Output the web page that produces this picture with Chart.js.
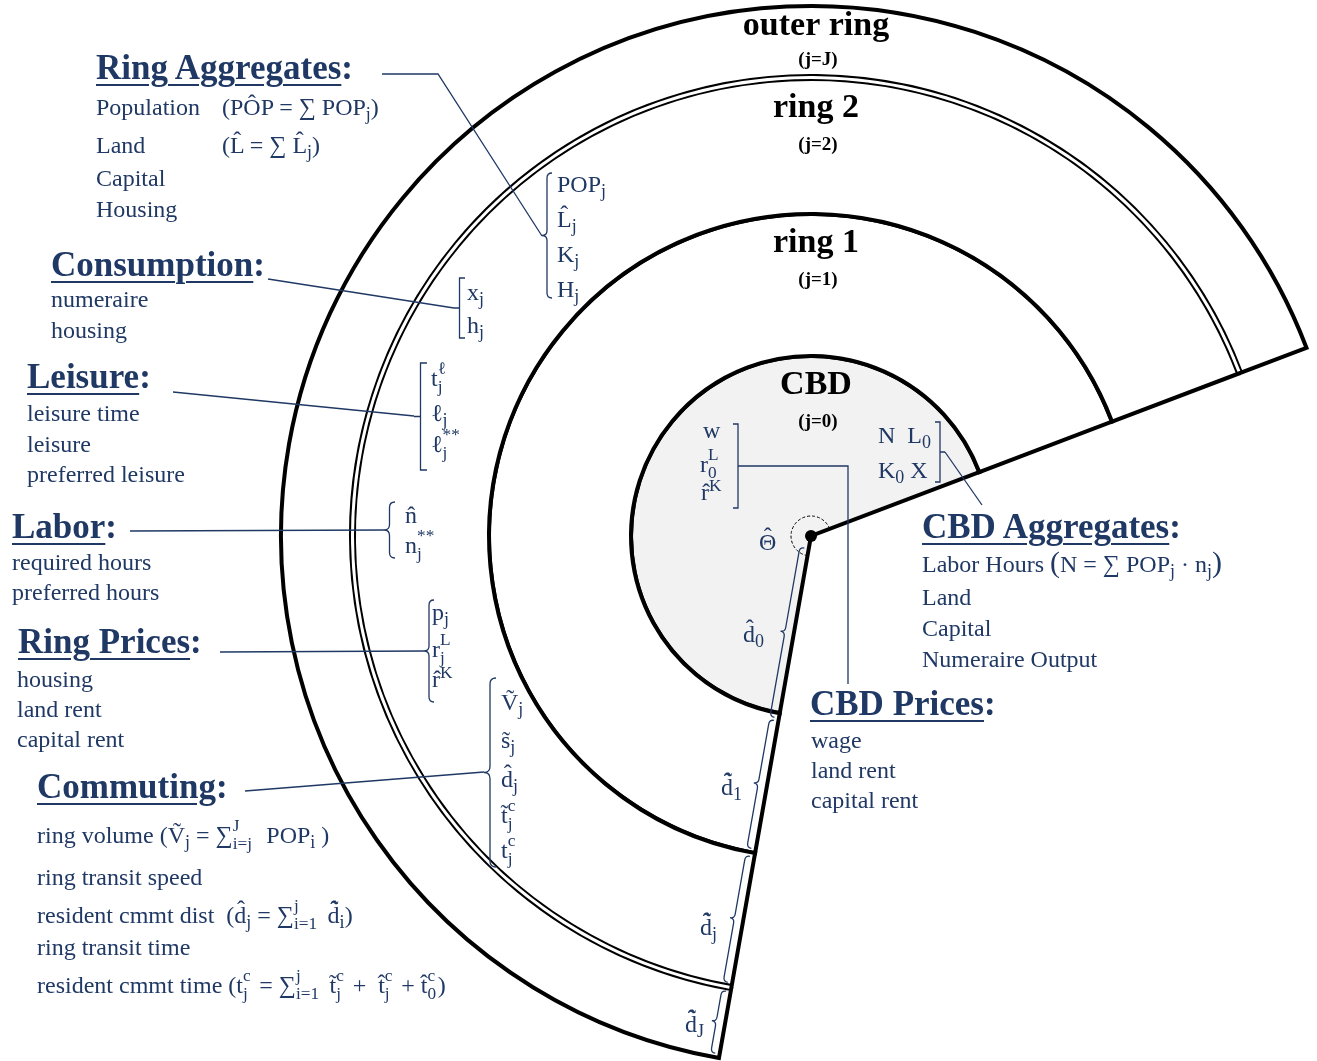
<!DOCTYPE html>
<html>
<head>
<meta charset="utf-8">
<title>Ring city</title>
<script src="https://cdn.jsdelivr.net/npm/chart.js"></script>
<style>
  html, body { margin: 0; padding: 0; background: #fff; }
  #wrap { position: relative; width: 1317px; height: 1061px; overflow: hidden; }
  #city { position: absolute; left: 0; top: 0; }
  .t { position: absolute; white-space: nowrap; color: #1f3864; font-family: 'Liberation Serif', serif; }
  .t span, .t sub, .t sup { line-height: 0; }
  .b { font-size: 24px; line-height: 24px; }
  .h { font-size: 35px; line-height: 35px; font-weight: bold; }
  .h u { text-decoration-thickness: 2px; text-underline-offset: 5px; }
  .m { font-family: 'Liberation Serif', serif; font-size: 24px; }
  .t.m { line-height: 24px; }
  .t .acc { position: relative; display: inline-block; line-height: 1; }
  .t .acc i { position: absolute; left: 0; width: 100%; text-align: center; top: -0.24em; font-style: normal; line-height: 1; }
  sub { font-size: 0.75em; vertical-align: -0.3em; }
  sup { font-size: 0.72em; vertical-align: 0.5em; }
  .ss { position: relative; display: inline-block; font-size: 0.72em; height: 0; }
  .t .ss .sp, .t .ss .sb { position: absolute; left: 0; line-height: 1; }
  .ss .sp { bottom: 0.5em; }
  .ss .sb { top: -0.48em; }
  .t .big { font-size: 30px; }
</style>
</head>
<body>
<div id="wrap">
  <canvas id="city" width="1317" height="1061"></canvas>
</div>
<script>
const ringNames = ['outer ring', 'ring 2', 'ring 1', 'CBD'];
const ringIds = ['(j=J)', '(j=2)', '(j=1)', '(j=0)'];
// outer edge of each band, outermost first
const bandKinds = ['outer ring', 'double line', 'ring 2', 'ring 1', 'CBD'];
const bandRadii = [530, 460, 457, 322, 180];
const sectorAngle = 239.2;   // part of the circle the city covers
const sectorStart = 190;     // clockwise from 12 o'clock

const navy = '#1f3864';
const clear = 'rgba(0,0,0,0)';

const datasets = bandRadii.map((r, i) => {
  const weight = r - (bandRadii[i + 1] || 0);
  if (bandKinds[i] === 'double line') {
    // white strip laid over the two borders, leaving the radial edges alone
    const m = 0.25;
    return {
      label: bandKinds[i], weight, order: 0, clip: false,
      data: [m, sectorAngle - 2 * m, m, 360 - sectorAngle],
      backgroundColor: [clear, '#fff', clear, clear],
      borderWidth: 0
    };
  }
  return {
    label: bandKinds[i], weight, order: 1, clip: false,
    data: [sectorAngle, 360 - sectorAngle],
    backgroundColor: [bandKinds[i] === 'CBD' ? '#f2f2f2' : '#fff', clear],
    borderColor: '#000',
    borderWidth: [4, 0],
    borderJoinStyle: 'miter'
  };
});

// annotation geometry
const leaders = [
  [[382, 74], [438, 74], [542, 236]],
  [[268, 279], [454, 308]],
  [[173, 392], [414, 416]],
  [[130, 531], [384, 530]],
  [[220, 652], [424, 651]],
  [[245, 791], [484, 772]],
  [[743, 466], [848, 466], [848, 684]],
  [[945, 452], [982, 505]]
];
const braces = [
  [552, 173, 552, 298, 10, 'curly'],
  [465, 278, 465, 338, 11, 'square'],
  [427, 363, 427, 470, 13, 'square'],
  [395, 502, 395, 558, 11, 'curly'],
  [434, 600, 434, 702, 10, 'curly'],
  [496, 678, 496, 867, 12, 'curly'],
  [733, 508, 733, 424, 10, 'square'],
  [935, 482, 935, 422, 10, 'square']
];

function drawBrace(ctx, x1, y1, x2, y2, w, kind) {
  const L = Math.hypot(x2 - x1, y2 - y1);
  const ux = (x2 - x1) / L, uy = (y2 - y1) / L;
  const nx = -uy, ny = ux;
  const P = (a, b) => [x1 + ux * a + nx * b, y1 + uy * a + ny * b];
  const h = w / 2, m = L / 2;
  ctx.beginPath();
  if (kind === 'square') {
    ctx.moveTo(...P(0, 0));
    ctx.lineTo(...P(0, h));
    ctx.lineTo(...P(L, h));
    ctx.lineTo(...P(L, 0));
    ctx.moveTo(...P(m, h));
    ctx.lineTo(...P(m, w));
  } else {
    const r = Math.min(h, L / 4);
    ctx.moveTo(...P(0, 0));
    ctx.quadraticCurveTo(...P(0, h), ...P(r, h));
    ctx.lineTo(...P(m - r, h));
    ctx.quadraticCurveTo(...P(m, h), ...P(m, w));
    ctx.quadraticCurveTo(...P(m, h), ...P(m + r, h));
    ctx.lineTo(...P(L - r, h));
    ctx.quadraticCurveTo(...P(L, h), ...P(L, 0));
  }
  ctx.stroke();
}

const diagram = {
  id: 'diagram',
  afterDatasetsDraw(chart) {
    const ctx = chart.ctx;
    const band = i => chart.getDatasetMeta(i).data[0];
    const outer = band(0);
    const cx = outer.x, cy = outer.y;

    ctx.save();
    // ring titles
    ctx.fillStyle = '#000';
    ctx.textAlign = 'center';
    [0, 2, 3, 4].forEach((di, k) => {
      const top = cy - band(di).outerRadius;
      const off = k === 0 ? [29, 59] : [38, 71];
      ctx.font = 'bold 34px "Liberation Serif"';
      ctx.fillText(ringNames[k], cx + 5, top + off[0]);
      ctx.font = 'bold 19px "Liberation Serif"';
      ctx.fillText(ringIds[k], cx + 7, top + off[1]);
    });

    // leader lines and braces
    ctx.strokeStyle = navy;
    ctx.lineWidth = 1.3;
    leaders.forEach(pts => {
      ctx.beginPath();
      pts.forEach((p, i) => i ? ctx.lineTo(p[0], p[1]) : ctx.moveTo(p[0], p[1]));
      ctx.stroke();
    });
    braces.forEach(b => drawBrace(ctx, ...b));

    // distance braces along the lower radial edge
    const a = outer.startAngle;
    const ux = Math.cos(a), uy = Math.sin(a);
    const nx = -uy, ny = ux;
    const rC = band(4).outerRadius, r1 = band(3).outerRadius;
    const r2 = band(2).outerRadius, r2o = band(1).outerRadius, R = outer.outerRadius;
    const spans = [[13, rC + 5], [rC + 8, r1 - 4], [r1 + 4, r2 - 3], [r2o + 3, R - 4]];
    const off = 4.5;
    spans.forEach(([s, e]) => {
      drawBrace(ctx, cx + ux * s + nx * off, cy + uy * s + ny * off,
        cx + ux * e + nx * off, cy + uy * e + ny * off, 9, 'curly');
    });

    // sector angle marker and centre point
    ctx.strokeStyle = '#000';
    ctx.lineWidth = 1;
    ctx.setLineDash([3, 2]);
    ctx.beginPath();
    ctx.arc(cx, cy, 20, outer.startAngle, outer.endAngle);
    ctx.stroke();
    ctx.setLineDash([]);
    ctx.fillStyle = '#000';
    ctx.beginPath();
    ctx.arc(cx, cy, 6, 0, Math.PI * 2);
    ctx.fill();
    ctx.restore();
  }
};

new Chart(document.getElementById('city'), {
  type: 'doughnut',
  data: { labels: ['city', 'outside'], datasets },
  options: {
    responsive: false,
    animation: false,
    events: [],
    rotation: sectorStart,
    circumference: 360,
    cutout: 0,
    radius: bandRadii[0],
    layout: { padding: { left: 305, top: 11, right: 0, bottom: 0 } },
    plugins: { legend: { display: false }, tooltip: { enabled: false } }
  },
  plugins: [diagram]
});

// text notes
function ss(sup, sub) {
  const w = Math.max(sup.length, sub.length) * 0.5 + 0.1;
  return `<span class="ss" style="width:${w}em"><span class="sp">${sup}</span><span class="sb">${sub}</span></span>`;
}
const L = 'L\u0302', ell = '\u2113', sum = '\u2211';
const dd = 'd\u0303\u0302';

const headings = [
  [96, 79, 'Ring Aggregates'], [51, 276, 'Consumption'], [27, 388, 'Leisure'], [12, 538, 'Labor'],
  [18, 653, 'Ring Prices'], [37, 798, 'Commuting'], [922, 538, 'CBD Aggregates'], [810, 715, 'CBD Prices']
];
const bodyLines = [
  [96, 115, 'Population'], [96, 153, 'Land'], [96, 186, 'Capital'], [96, 217, 'Housing'],
  [222, 115, `(<span class="m">P\u00d4P = ${sum} POP<sub>j</sub></span>)`],
  [222, 153, `(<span class="m">${L} = ${sum} ${L}<sub>j</sub></span>)`],
  [51, 307, 'numeraire'], [51, 338, 'housing'],
  [27, 421, 'leisure time'], [27, 452, 'leisure'], [27, 482, 'preferred leisure'],
  [12, 570, 'required hours'], [12, 600, 'preferred hours'],
  [17, 687, 'housing'], [17, 717, 'land rent'], [17, 747, 'capital rent'],
  [37, 843, `ring volume (<span class="m">V\u0303<sub>j</sub> = ${sum}${ss('J', 'i=j')} POP<sub>i</sub> </span>)`],
  [37, 885, 'ring transit speed'],
  [37, 923, `resident cmmt dist&nbsp; (<span class="m">d\u0302<sub>j</sub> = ${sum}${ss('j', 'i=1')} ${dd}<sub>i</sub></span>)`],
  [37, 955, 'ring transit time'],
  [37, 993, `resident cmmt time (<span class="m">t${ss('c', 'j')} = ${sum}${ss('j', 'i=1')} t\u0303${ss('c', 'j')} +&nbsp; t\u0302${ss('c', 'j')} + t\u0302${ss('c', '0')}</span>)`],
  [922, 572, `Labor Hours <span class="big">(</span><span class="m">N = ${sum} POP<sub>j</sub> · n<sub>j</sub></span><span class="big">)</span>`],
  [922, 605, 'Land'], [922, 636, 'Capital'], [922, 667, 'Numeraire Output'],
  [811, 748, 'wage'], [811, 778, 'land rent'], [811, 808, 'capital rent']
];
const symbolLines = [
  [557, 192, 'POP<sub>j</sub>'], [557, 227, `${L}<sub>j</sub>`], [557, 262, 'K<sub>j</sub>'], [557, 297, 'H<sub>j</sub>'],
  [467, 300, 'x<sub>j</sub>'], [467, 333, 'h<sub>j</sub>'],
  [431, 386, `t${ss(ell, 'j')}`], [431, 421, `${ell}<sub>j</sub>`], [431, 452, `${ell}${ss('**', 'j')}`],
  [405, 523, 'n\u0302'], [405, 553, `n${ss('**', 'j')}`],
  [432, 620, 'p<sub>j</sub>'], [432, 657, `r${ss('L', 'j')}`], [432, 687, 'r\u0302<sup>K</sup>'],
  [501, 710, 'V\u0303<sub>j</sub>'], [501, 748, 's\u0303<sub>j</sub>'], [501, 787, 'd\u0302<sub>j</sub>'],
  [501, 823, `t\u0303${ss('c', 'j')}`], [501, 858, `t${ss('c', 'j')}`],
  [703, 438, 'w'], [700, 472, `r${ss('L', '0')}`], [701, 500, 'r\u0302<sup>K</sup>'],
  [878, 443, 'N&nbsp;&nbsp;L<sub>0</sub>'], [878, 478, 'K<sub>0</sub>&nbsp;X'],
  [759, 550, '<span class="acc">\u0398<i>\u02c6</i></span>'],
  [743, 642, 'd\u0302<sub>0</sub>'], [721, 795, `${dd}<sub>1</sub>`],
  [700, 935, `${dd}<sub>j</sub>`], [685, 1032, `${dd}<sub>J</sub>`]
];

const wrap = document.getElementById('wrap');
function put(x, base, cls, html) {
  const d = document.createElement('div');
  const fs = cls === 'h' ? 35 : 24;
  d.className = 't ' + cls;
  d.style.left = x + 'px';
  d.style.top = (base - 0.8375 * fs) + 'px';
  d.innerHTML = html;
  wrap.appendChild(d);
}
headings.forEach(([x, y, s]) => put(x, y, 'h', `<u>${s}</u>:`));
bodyLines.forEach(([x, y, s]) => put(x, y, 'b', s));
symbolLines.forEach(([x, y, s]) => put(x, y, 'm', s));
</script>
</body>
</html>
